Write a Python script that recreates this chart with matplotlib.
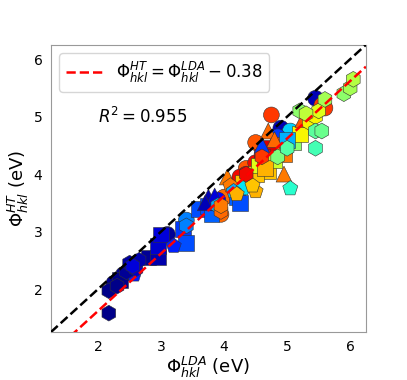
import matplotlib
matplotlib.use('Agg')
import matplotlib.pyplot as plt
import numpy as np

# Work functions (eV): LDA value, HT value, colour value (jet), grouped by marker
circle_x = [2.25, 2.4, 3.1, 3.4, 3.95, 4.0, 4.35, 4.5, 4.5, 4.6, 4.7, 4.75, 4.9, 5.05, 5.45, 5.55, 5.6, 4.35, 4.25, 3.9, 4.85]
circle_y = [2.1, 2.25, 2.95, 3.2, 3.3, 3.6, 4.1, 4.55, 4.2, 4.25, 4.35, 5.03, 4.8, 4.75, 5.32, 5.2, 5.15, 4.0, 3.95, 3.55, 4.65]
circle_c = [0.01, 0.01, 0.02, 0.25, 0.8, 0.8, 0.82, 0.82, 0.9, 0.9, 0.88, 0.85, 0.05, 0.33, 0.05, 0.85, 0.85, 0.9, 0.9, 0.12, 0.18]

square_x = [2.35, 2.8, 2.95, 2.95, 3.0, 3.35, 3.4, 3.6, 3.75, 3.8, 4.2, 4.25, 4.4, 4.4, 4.7, 4.75, 4.95, 4.95, 5.1, 5.2, 4.6, 4.3, 4.5, 4.8, 5.0, 4.55, 4.65]
square_y = [2.15, 2.55, 2.55, 2.75, 2.95, 3.05, 2.8, 3.4, 3.45, 3.3, 3.6, 3.5, 3.85, 3.95, 4.05, 4.45, 4.5, 4.35, 4.55, 4.7, 4.3, 3.85, 4.0, 4.25, 4.6, 4.15, 4.1]
square_c = [0.01, 0.02, 0.04, 0.07, 0.08, 0.18, 0.2, 0.2, 0.2, 0.22, 0.22, 0.2, 0.35, 0.68, 0.7, 0.92, 0.85, 0.78, 0.52, 0.65, 0.9, 0.7, 0.7, 0.6, 0.3, 0.62, 0.72]

triangle_x = [3.75, 3.85, 3.7, 4.05, 4.7, 4.8, 4.95, 5.25, 4.6]
triangle_y = [3.6, 3.62, 3.5, 3.95, 4.75, 4.6, 4.0, 4.95, 4.5]
triangle_c = [0.05, 0.08, 0.05, 0.78, 0.8, 0.8, 0.78, 0.82, 0.18]

pentagon_x = [2.57, 3.2, 4.1, 4.5, 5.05, 4.3, 4.15, 4.45, 4.2]
pentagon_y = [2.25, 2.75, 3.8, 3.7, 3.75, 3.75, 3.7, 3.8, 3.65]
pentagon_c = [0.15, 0.16, 0.78, 0.72, 0.4, 0.35, 0.3, 0.7, 0.72]

hexagon_x = [2.17, 2.17, 2.3, 2.45, 2.5, 2.6, 2.65, 2.55, 3.4, 3.9, 3.95, 3.95, 4.35, 4.6, 5.2, 5.35, 5.45, 5.45, 5.45, 5.55, 5.5, 5.6, 5.9, 6.0, 6.05, 5.3, 4.85, 5.0]
hexagon_y = [1.58, 1.97, 2.05, 2.3, 2.45, 2.35, 2.5, 2.4, 3.1, 3.45, 3.35, 3.45, 4.0, 4.3, 5.1, 4.9, 5.0, 4.75, 4.45, 4.75, 5.1, 5.3, 5.4, 5.5, 5.65, 5.05, 4.3, 4.45]
hexagon_c = [0.01, 0.01, 0.01, 0.02, 0.03, 0.06, 0.04, 0.08, 0.25, 0.3, 0.8, 0.78, 0.9, 0.85, 0.52, 0.65, 0.65, 0.46, 0.43, 0.48, 0.62, 0.55, 0.52, 0.55, 0.57, 0.58, 0.5, 0.45]

offset = 0.38
r2 = 0.955
lims = (1.25, 6.25)

fig = plt.figure(figsize=(4.07, 3.8), dpi=100)
ax = fig.add_axes([0.125, 0.126, 0.774, 0.756])

groups = [
    ('o', circle_x, circle_y, circle_c),
    ('s', square_x, square_y, square_c),
    ('^', triangle_x, triangle_y, triangle_c),
    ('p', pentagon_x, pentagon_y, pentagon_c),
    ('h', hexagon_x, hexagon_y, hexagon_c),
]
for m, xs, ys, cs in groups:
    ax.scatter(xs, ys, c=cs, cmap='jet', vmin=0, vmax=1, marker=m, s=130,
               edgecolors='#333333', linewidths=0.4, zorder=2)

line = np.array(lims)
ax.plot(line, line, '--', color='k', lw=1.8, zorder=3)
ax.plot(line, line - offset, '--', color='red', lw=1.8, zorder=3,
        label=r'$\Phi_{hkl}^{HT} = \Phi_{hkl}^{LDA} - 0.38$')

ax.text(2.0, 5.0, r'$R^2 = %.3f$' % r2, fontsize=12, va='center', ha='left')

ax.set_xlim(lims)
ax.set_ylim(lims)
ax.set_xticks([2, 3, 4, 5, 6])
ax.set_yticks([2, 3, 4, 5, 6])
ax.tick_params(length=0, labelsize=10, pad=6)
for sp in ax.spines.values():
    sp.set_color('#999999')
ax.set_xlabel(r'$\Phi_{hkl}^{LDA}$ (eV)', fontsize=13, labelpad=0)
ax.set_ylabel(r'$\Phi_{hkl}^{HT}$ (eV)', fontsize=13, labelpad=2)
ax.legend(loc='upper left', fontsize=12, handlelength=2.2)

fig.savefig('out.png', dpi=100)
